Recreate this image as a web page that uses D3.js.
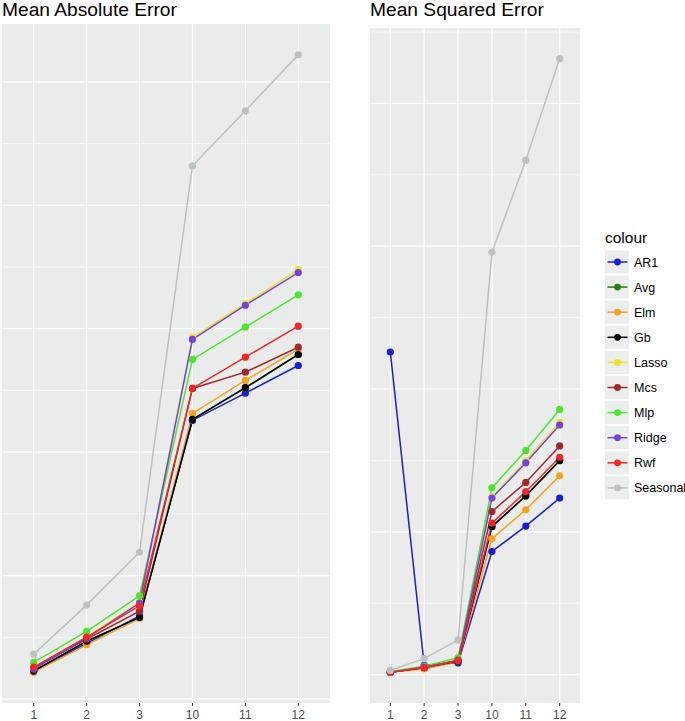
<!DOCTYPE html>
<html>
<head>
<meta charset="utf-8">
<script src="https://cdn.jsdelivr.net/npm/d3@7"></script>
<style>
  body { margin: 0; background: #fff; }
  svg { display: block; font-family: "Liberation Sans", Arial, Helvetica, sans-serif; }
</style>
</head>
<body>
<svg id="chart" width="685" height="721"></svg>
<script>
const horizons = ["1", "2", "3", "10", "11", "12"]
const models = ["AR1", "Avg", "Elm", "Gb", "Lasso", "Mcs", "Mlp", "Ridge", "Rwf", "Seasonal"]
const colours = ["#1c1cd8", "#2e7a1a", "#f8a020", "#000000", "#e6e622", "#a0282e", "#4ce62e", "#7440e8", "#f42424", "#bcc2c0"]

// mean absolute error, one array per model, in the order of horizons
const maeAR1 = [0.227, 0.451, 0.674, 2.257, 2.478, 2.702]
const maeAvg = [0.226, 0.468, 0.660, 2.264, 2.520, 2.790]
const maeElm = [0.218, 0.439, 0.653, 2.314, 2.581, 2.832]
const maeGb = [0.227, 0.469, 0.661, 2.265, 2.522, 2.791]
const maeLasso = [0.251, 0.502, 0.785, 2.929, 3.204, 3.479]
const maeMcs = [0.251, 0.485, 0.712, 2.516, 2.648, 2.850]
const maeMlp = [0.297, 0.548, 0.836, 2.751, 3.012, 3.274]
const maeRidge = [0.243, 0.494, 0.777, 2.913, 3.190, 3.455]
const maeRwf = [0.259, 0.502, 0.755, 2.516, 2.769, 3.020]
const maeSeasonal = [0.364, 0.761, 1.189, 4.320, 4.765, 5.218]

// mean squared error
const mseAR1 = [2.259, 0.065, 0.082, 0.862, 1.040, 1.236]
const mseAvg = [0.017, 0.049, 0.094, 1.036, 1.251, 1.498]
const mseElm = [0.016, 0.040, 0.091, 0.951, 1.154, 1.392]
const mseGb = [0.017, 0.049, 0.094, 1.037, 1.252, 1.499]
const mseLasso = [0.017, 0.052, 0.105, 1.245, 1.497, 1.767]
const mseMcs = [0.017, 0.049, 0.098, 1.142, 1.346, 1.601]
const mseMlp = [0.021, 0.059, 0.119, 1.308, 1.570, 1.857]
const mseRidge = [0.017, 0.052, 0.101, 1.236, 1.483, 1.748]
const mseRwf = [0.017, 0.049, 0.098, 1.061, 1.281, 1.522]
const mseSeasonal = [0.030, 0.112, 0.243, 2.958, 3.601, 4.313]

const maeSeries = [maeAR1, maeAvg, maeElm, maeGb, maeLasso, maeMcs, maeMlp, maeRidge, maeRwf, maeSeasonal]
const mseSeries = [mseAR1, mseAvg, mseElm, mseGb, mseLasso, mseMcs, mseMlp, mseRidge, mseRwf, mseSeasonal]

let svg = d3.select("#chart")
let colour = d3.scaleOrdinal().domain(models).range(colours)

function panel(title, series, x0, x1, y0, y1) {
    let g = svg.append("g")

    let x = d3.scalePoint().domain(horizons).range([x0, x1]).padding(0.6)

    let all = series.flat()
    let lo = d3.min(all), hi = d3.max(all)
    let pad = (hi - lo) * 0.05
    let y = d3.scaleLinear().domain([lo - pad, hi + pad]).range([y1, y0])

    let major = y.ticks(5)
    let step = major[1] - major[0]
    let minor = d3.range(major[0] - step / 2, hi + pad + step, step)
        .filter(v => v > y.domain()[0] && v < y.domain()[1])

    g.append("rect")
        .attr("x", x0).attr("y", y0)
        .attr("width", x1 - x0).attr("height", y1 - y0)
        .attr("fill", "#e9ecea")

    g.selectAll(".minor").data(minor).join("line")
        .attr("x1", x0).attr("x2", x1)
        .attr("y1", d => y(d)).attr("y2", d => y(d))
        .attr("stroke", "#fff").attr("stroke-width", 0.6)

    g.selectAll(".major").data(major).join("line")
        .attr("x1", x0).attr("x2", x1)
        .attr("y1", d => y(d)).attr("y2", d => y(d))
        .attr("stroke", "#fff").attr("stroke-width", 1.2)

    g.selectAll(".vgrid").data(horizons).join("line")
        .attr("x1", d => x(d)).attr("x2", d => x(d))
        .attr("y1", y0).attr("y2", y1)
        .attr("stroke", "#fff").attr("stroke-width", 1.2)

    let rows = series.map((vals, i) => ({ model: models[i], pts: vals.map((v, j) => [horizons[j], v]) }))
    let line = d3.line().x(d => x(d[0])).y(d => y(d[1]))

    g.append("g").selectAll("path").data(rows).join("path")
        .attr("d", d => line(d.pts))
        .attr("fill", "none")
        .attr("stroke", d => colour(d.model))
        .attr("stroke-width", 1.5)

    rows.forEach(r => {
        g.append("g").selectAll("circle").data(r.pts).join("circle")
            .attr("cx", d => x(d[0])).attr("cy", d => y(d[1]))
            .attr("r", 3.6)
            .attr("fill", colour(r.model))
    })

    // bottom axis
    g.selectAll(".tick").data(horizons).join("line")
        .attr("x1", d => x(d)).attr("x2", d => x(d))
        .attr("y1", y1).attr("y2", y1 + 3)
        .attr("stroke", "#333").attr("stroke-width", 1)

    g.selectAll(".lab").data(horizons).join("text")
        .attr("x", d => x(d)).attr("y", 718.5)
        .attr("text-anchor", "middle")
        .attr("font-size", 12)
        .attr("fill", "#4d4d4d")
        .text(d => d)

    svg.append("text")
        .attr("x", x0).attr("y", 16)
        .attr("font-size", 19.2)
        .attr("fill", "#000")
        .text(title)
}

panel("Mean Absolute Error", maeSeries, 2, 330, 24, 703)
panel("Mean Squared Error", mseSeries, 370, 580, 28, 703)

// legend
let legend = svg.append("g")
legend.append("text")
    .attr("x", 605).attr("y", 243)
    .attr("font-size", 15.5)
    .text("colour")

let key = legend.selectAll("g").data(models).join("g")
    .attr("transform", (d, i) => `translate(0,${262 + i * 25.1})`)

key.append("rect")
    .attr("x", 605).attr("y", -11.5)
    .attr("width", 24).attr("height", 23)
    .attr("fill", "#eceeed")
key.append("line")
    .attr("x1", 607.5).attr("x2", 627.5)
    .attr("stroke", d => colour(d)).attr("stroke-width", 1.5)
key.append("circle")
    .attr("cx", 617.5).attr("r", 3.4)
    .attr("fill", d => colour(d))
key.append("text")
    .attr("x", 634).attr("y", 4.5)
    .attr("font-size", 12.5)
    .attr("fill", "#000")
    .text(d => d)
</script>
</body>
</html>
